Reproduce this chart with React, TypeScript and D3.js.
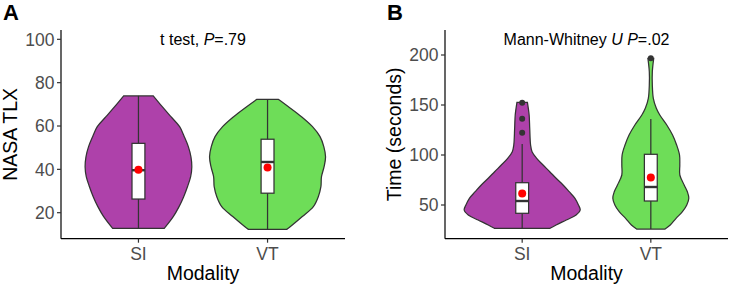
import * as d3 from 'd3';

// ---- data ----
const modalities = ['SI', 'VT'];

// NASA TLX violins: [value, relative density]
const nasaSiViolin: [number, number][] = [
  [12.8, 0.445], [18.2, 0.6], [22.8, 0.7], [27.4, 0.78], [32, 0.845], [36.6, 0.9],
  [41.2, 0.92], [45.8, 0.905], [50.5, 0.86], [55.1, 0.79], [59.7, 0.71], [64.3, 0.56],
  [68.9, 0.41], [73.9, 0.255],
];
const nasaVtViolin: [number, number][] = [
  [12.3, 0.33], [13.5, 0.39], [18.2, 0.6], [22.8, 0.79], [27.4, 0.875], [32, 0.92],
  [36.6, 0.93], [41.2, 0.975], [45.8, 1.0], [50.5, 0.97], [55.1, 0.905], [59.7, 0.775],
  [64.3, 0.585], [68.9, 0.36], [72.3, 0.185],
];
// Time violins
const timeSiViolin: [number, number][] = [
  [26.7, 0.48], [30, 0.585], [35, 0.76], [40, 0.93], [45, 1.0], [50, 0.97], [56.7, 0.91],
  [63.3, 0.81], [70, 0.705], [76.7, 0.585], [83.3, 0.475], [90, 0.36], [96.7, 0.25],
  [103.3, 0.17], [110, 0.145], [126.7, 0.13], [140, 0.12], [152.7, 0.09],
];
const timeVtViolin: [number, number][] = [
  [26, 0.245], [30, 0.335], [36.7, 0.435], [43.3, 0.545], [50, 0.62], [56.7, 0.655],
  [63.3, 0.63], [70, 0.575], [80, 0.5], [90, 0.5], [100, 0.495], [110, 0.445], [120, 0.375],
  [130, 0.275], [140, 0.155], [146.7, 0.095], [156.7, 0.043], [170, 0.026], [183.3, 0.026],
  [196.7, 0.05],
];

// box stats: [whiskerLow, q1, median, q3, whiskerHigh, mean]
const nasaBoxes = [
  [12.8, 26.3, 39.6, 52, 73.9, 39.8],
  [12.3, 29, 43.4, 53.9, 72.3, 40.9],
];
const timeBoxes = [
  [26.7, 41.7, 54, 72.3, 111, 61.5],
  [26, 54, 68, 100.7, 136, 77.5],
];
const timeOutliers = [[122.3, 136.3, 152.3], [196.7]];
const nasaOutliers: number[][] = [[], []];

const nasaTicks = [20, 40, 60, 80, 100];
const timeTicks = [50, 100, 150, 200];

const fills = ['#AE41AA', '#6EDD58'];

const FONT = 'Liberation Sans, Arial, Helvetica, sans-serif';

interface PanelProps {
  left: number;
  right: number;
  letter: string;
  yLabel: string;
  yDomain: [number, number];
  ticks: number[];
  violins: [number, number][][];
  boxes: number[][];
  outliers: number[][];
  title: React.ReactNode;
}

function Panel({ left, right, letter, yLabel, yDomain, ticks, violins, boxes, outliers, title }: PanelProps) {
  const top = 30;
  const bottom = 238.7;
  const x = d3.scalePoint<string>().domain(modalities).range([left, right]).padding(0.6);
  const y = d3.scaleLinear().domain(yDomain).range([bottom, top]);
  const w = d3.scaleLinear().domain([0, 1]).range([0, 58]);
  const boxHalf = x.step() * 0.05;
  const stroke = '#333';

  return (
    <g fontFamily={FONT}>
      <text x={left - 58} y={20} fontSize={22} fontWeight="bold">{letter}</text>
      <text x={(left + right) / 2} y={44.5} fontSize={16} textAnchor="middle">{title}</text>
      {modalities.map((m, i) => {
        const cx = x(m)!;
        const area = d3
          .area<[number, number]>()
          .y((d) => y(d[0]))
          .x0((d) => cx - w(d[1]))
          .x1((d) => cx + w(d[1]))
          .curve(d3.curveCatmullRom);
        const [lo, q1, med, q3, hi, mean] = boxes[i];
        return (
          <g key={m}>
            <path d={area(violins[i]) ?? ''} fill={fills[i]} stroke={stroke} strokeWidth={1.25} />
            <line x1={cx} x2={cx} y1={y(lo)} y2={y(hi)} stroke={stroke} strokeWidth={1.25} />
            <rect x={cx - boxHalf} width={boxHalf * 2} y={y(q3)} height={y(q1) - y(q3)} fill="white" stroke={stroke} strokeWidth={1.25} />
            <line x1={cx - boxHalf} x2={cx + boxHalf} y1={y(med)} y2={y(med)} stroke={stroke} strokeWidth={2.4} />
            {outliers[i].map((o) => (
              <circle key={o} cx={cx} cy={y(o)} r={3} fill={stroke} />
            ))}
            <circle cx={cx} cy={y(mean)} r={4} fill="#FF0000" />
          </g>
        );
      })}
      {/* axes */}
      <line x1={left} x2={left} y1={top} y2={bottom} stroke="black" strokeWidth={1.2} />
      <line x1={left} x2={right} y1={bottom} y2={bottom} stroke="black" strokeWidth={1.2} />
      {ticks.map((t) => (
        <g key={t}>
          <line x1={left - 4} x2={left} y1={y(t)} y2={y(t)} stroke={stroke} strokeWidth={1.2} />
          <text x={left - 6.5} y={y(t)} dy="0.36em" textAnchor="end" fontSize={17.5} fill="#4D4D4D">{t}</text>
        </g>
      ))}
      {modalities.map((m) => (
        <g key={m}>
          <line x1={x(m)} x2={x(m)} y1={bottom} y2={bottom + 4} stroke={stroke} strokeWidth={1.2} />
          <text x={x(m)} y={260} textAnchor="middle" fontSize={17.5} fill="#4D4D4D">{m}</text>
        </g>
      ))}
      <text x={(left + right) / 2} y={280} textAnchor="middle" fontSize={19.5}>Modality</text>
      <text
        transform={`translate(${left - 44.5},${(top + bottom) / 2}) rotate(-90)`}
        textAnchor="middle"
        fontSize={19.5}
      >
        {yLabel}
      </text>
    </g>
  );
}

export default function App() {
  return (
    <svg width={730} height={285} style={{ position: 'absolute', left: 0, top: 0, background: 'white' }}>
      <Panel
        left={61}
        right={345}
        letter="A"
        yLabel="NASA TLX"
        yDomain={[8, 104.3]}
        ticks={nasaTicks}
        violins={[nasaSiViolin, nasaVtViolin]}
        boxes={nasaBoxes}
        outliers={nasaOutliers}
        title={<>t test, <tspan fontStyle="italic">P</tspan>=.79</>}
      />
      <Panel
        left={445}
        right={728}
        letter="B"
        yLabel="Time (seconds)"
        yDomain={[16.3, 225]}
        ticks={timeTicks}
        violins={[timeSiViolin, timeVtViolin]}
        boxes={timeBoxes}
        outliers={timeOutliers}
        title={<>Mann-Whitney <tspan fontStyle="italic">U</tspan> <tspan fontStyle="italic">P</tspan>=.02</>}
      />
    </svg>
  );
}
